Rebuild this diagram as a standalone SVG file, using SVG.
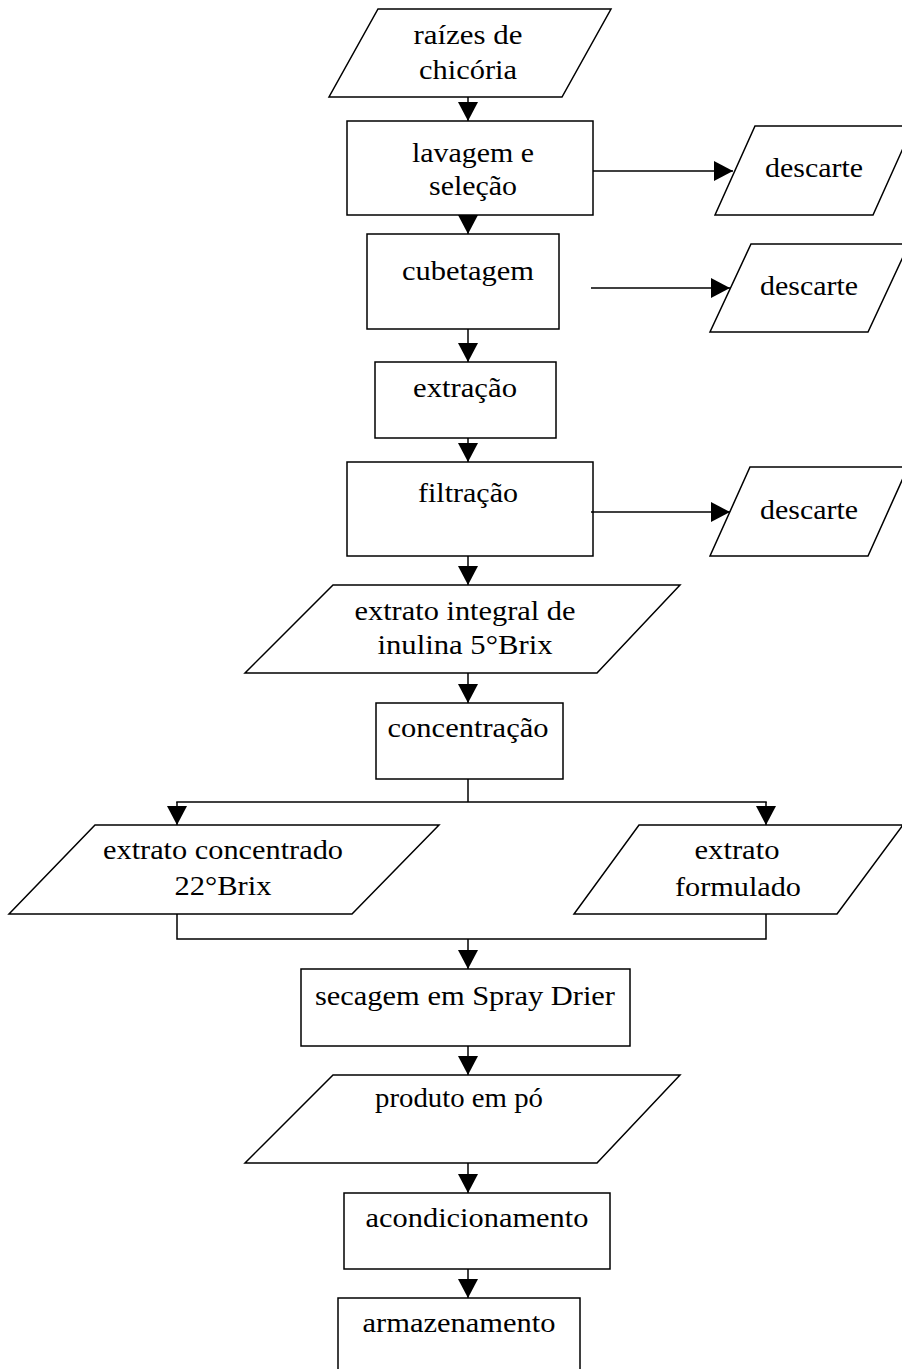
<svg xmlns="http://www.w3.org/2000/svg" width="902" height="1369" viewBox="0 0 902 1369">
<style>
.s{fill:#fff;stroke:#000;stroke-width:1.5}
.c{fill:none;stroke:#000;stroke-width:1.5}
text{font-family:"Liberation Serif","Times New Roman",serif;font-size:28px;fill:#000;text-anchor:middle}
</style>
<defs>
<marker id="ah" viewBox="0 0 20 20" markerUnits="userSpaceOnUse" markerWidth="20" markerHeight="20" refX="19" refY="10" orient="auto">
<path d="M0,0 L19,10 L0,20 z" fill="#000"/>
</marker>
</defs>
<rect width="902" height="1369" fill="#fff"/>
<g id="n-raizes"><polygon class="s" points="378,9 611,9 562,97 329,97"/>
<text x="468" y="44" textLength="109" lengthAdjust="spacingAndGlyphs">raízes de</text>
<text x="468" y="79" textLength="98" lengthAdjust="spacingAndGlyphs">chicória</text></g>
<g id="n-lavagem"><rect class="s" x="347" y="121" width="246" height="94"/>
<text x="473" y="162" textLength="122" lengthAdjust="spacingAndGlyphs">lavagem e</text>
<text x="473" y="195" textLength="88" lengthAdjust="spacingAndGlyphs">seleção</text></g>
<g id="n-descarte1"><polygon class="s" points="755,126 913,126 873,215 715,215"/>
<text x="814" y="177" textLength="98" lengthAdjust="spacingAndGlyphs">descarte</text></g>
<g id="n-cubetagem"><rect class="s" x="367" y="234" width="192" height="95"/>
<text x="468" y="280" textLength="132" lengthAdjust="spacingAndGlyphs">cubetagem</text></g>
<g id="n-descarte2"><polygon class="s" points="751,244 909,244 868,332 710,332"/>
<text x="809" y="295" textLength="98" lengthAdjust="spacingAndGlyphs">descarte</text></g>
<g id="n-extracao"><rect class="s" x="375" y="362" width="181" height="76"/>
<text x="465" y="397" textLength="104" lengthAdjust="spacingAndGlyphs">extração</text></g>
<g id="n-filtracao"><rect class="s" x="347" y="462" width="246" height="94"/>
<text x="468" y="502" textLength="100" lengthAdjust="spacingAndGlyphs">filtração</text></g>
<g id="n-descarte3"><polygon class="s" points="750,467 908,467 868,556 710,556"/>
<text x="809" y="519" textLength="98" lengthAdjust="spacingAndGlyphs">descarte</text></g>
<g id="n-extrato-integral"><polygon class="s" points="333,585 680,585 597,673 245,673"/>
<text x="465" y="620" textLength="221" lengthAdjust="spacingAndGlyphs">extrato integral de</text>
<text x="465" y="654" textLength="175" lengthAdjust="spacingAndGlyphs">inulina 5°Brix</text></g>
<g id="n-concentracao"><rect class="s" x="376" y="703" width="187" height="76"/>
<text x="468" y="737" textLength="161" lengthAdjust="spacingAndGlyphs">concentração</text></g>
<g id="n-extrato-concentrado"><polygon class="s" points="95,825 439,825 352,914 9,914"/>
<text x="223" y="859" textLength="240" lengthAdjust="spacingAndGlyphs">extrato concentrado</text>
<text x="223" y="895" textLength="97" lengthAdjust="spacingAndGlyphs">22°Brix</text></g>
<g id="n-extrato-formulado"><polygon class="s" points="639,825 903,825 837,914 574,914"/>
<text x="737" y="859" textLength="85" lengthAdjust="spacingAndGlyphs">extrato</text>
<text x="738" y="896" textLength="126" lengthAdjust="spacingAndGlyphs">formulado</text></g>
<g id="n-secagem"><rect class="s" x="301" y="969" width="329" height="77"/>
<text x="465" y="1005" textLength="300" lengthAdjust="spacingAndGlyphs">secagem em Spray Drier</text></g>
<g id="n-produto"><polygon class="s" points="333,1075 680,1075 597,1163 245,1163"/>
<text x="459" y="1107" textLength="168" lengthAdjust="spacingAndGlyphs">produto em pó</text></g>
<g id="n-acondicionamento"><rect class="s" x="344" y="1193" width="266" height="76"/>
<text x="477" y="1227" textLength="223" lengthAdjust="spacingAndGlyphs">acondicionamento</text></g>
<g id="n-armazenamento"><rect class="s" x="338" y="1298" width="242" height="90"/>
<text x="459" y="1332" textLength="193" lengthAdjust="spacingAndGlyphs">armazenamento</text></g>
<g id="connectors">
<line class="c" x1="468" y1="97" x2="468" y2="121" marker-end="url(#ah)"/>
<line class="c" x1="468" y1="215" x2="468" y2="234" marker-end="url(#ah)"/>
<line class="c" x1="593" y1="171" x2="733" y2="171" marker-end="url(#ah)"/>
<line class="c" x1="591" y1="288" x2="730" y2="288" marker-end="url(#ah)"/>
<line class="c" x1="468" y1="329" x2="468" y2="362" marker-end="url(#ah)"/>
<line class="c" x1="468" y1="438" x2="468" y2="462" marker-end="url(#ah)"/>
<line class="c" x1="591" y1="512" x2="730" y2="512" marker-end="url(#ah)"/>
<line class="c" x1="468" y1="556" x2="468" y2="585" marker-end="url(#ah)"/>
<line class="c" x1="468" y1="673" x2="468" y2="703" marker-end="url(#ah)"/>
<line class="c" x1="468" y1="779" x2="468" y2="802"/>
<line class="c" x1="176.25" y1="802" x2="766.75" y2="802"/>
<line class="c" x1="177" y1="802" x2="177" y2="825" marker-end="url(#ah)"/>
<line class="c" x1="766" y1="802" x2="766" y2="825" marker-end="url(#ah)"/>
<polyline class="c" points="177,914 177,939 766,939 766,914"/>
<line class="c" x1="468" y1="939" x2="468" y2="969" marker-end="url(#ah)"/>
<line class="c" x1="468" y1="1046" x2="468" y2="1075" marker-end="url(#ah)"/>
<line class="c" x1="468" y1="1163" x2="468" y2="1193" marker-end="url(#ah)"/>
<line class="c" x1="468" y1="1269" x2="468" y2="1298" marker-end="url(#ah)"/>
</g>
</svg>
